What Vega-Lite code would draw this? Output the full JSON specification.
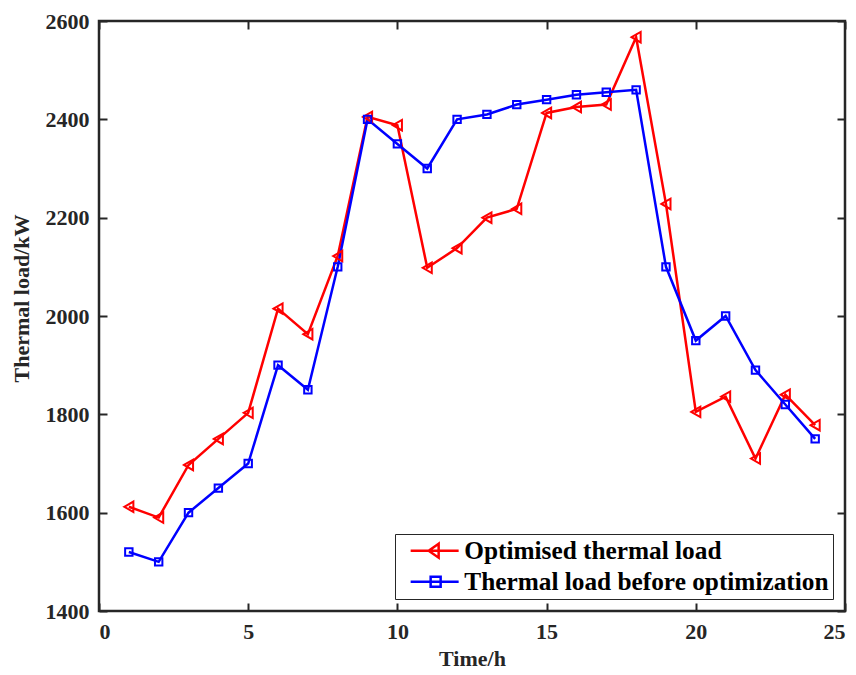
{
  "$schema": "https://vega.github.io/schema/vega-lite/v6.json",
  "width": 746,
  "height": 590,
  "autosize": {"type": "none"},
  "padding": {"left": 99, "top": 21, "right": 11, "bottom": 64},
  "background": "white",
  "config": {
    "view": {"stroke": "#262626", "strokeWidth": 2.5},
    "font": "Liberation Serif",
    "axis": {
      "domain": false,
      "grid": false,
      "tickSize": -8,
      "tickWidth": 2,
      "tickColor": "#262626",
      "labelFont": "Liberation Serif",
      "labelFontWeight": "bold",
      "labelFontSize": 22,
      "labelColor": "#262626",
      "titleFont": "Liberation Serif",
      "titleFontWeight": "bold",
      "titleFontSize": 22,
      "titleColor": "#262626"
    }
  },
  "data": {
    "values": [
      {"t": 1, "series": "Optimised thermal load", "load": 1612},
      {"t": 2, "series": "Optimised thermal load", "load": 1590},
      {"t": 3, "series": "Optimised thermal load", "load": 1697},
      {"t": 4, "series": "Optimised thermal load", "load": 1750},
      {"t": 5, "series": "Optimised thermal load", "load": 1803},
      {"t": 6, "series": "Optimised thermal load", "load": 2015},
      {"t": 7, "series": "Optimised thermal load", "load": 1963},
      {"t": 8, "series": "Optimised thermal load", "load": 2122},
      {"t": 9, "series": "Optimised thermal load", "load": 2405},
      {"t": 10, "series": "Optimised thermal load", "load": 2388},
      {"t": 11, "series": "Optimised thermal load", "load": 2098},
      {"t": 12, "series": "Optimised thermal load", "load": 2138},
      {"t": 13, "series": "Optimised thermal load", "load": 2200},
      {"t": 14, "series": "Optimised thermal load", "load": 2218},
      {"t": 15, "series": "Optimised thermal load", "load": 2413},
      {"t": 16, "series": "Optimised thermal load", "load": 2425},
      {"t": 17, "series": "Optimised thermal load", "load": 2430},
      {"t": 18, "series": "Optimised thermal load", "load": 2567},
      {"t": 19, "series": "Optimised thermal load", "load": 2228},
      {"t": 20, "series": "Optimised thermal load", "load": 1805},
      {"t": 21, "series": "Optimised thermal load", "load": 1836},
      {"t": 22, "series": "Optimised thermal load", "load": 1710},
      {"t": 23, "series": "Optimised thermal load", "load": 1840},
      {"t": 24, "series": "Optimised thermal load", "load": 1778},
      {"t": 1, "series": "Thermal load before optimization", "load": 1520},
      {"t": 2, "series": "Thermal load before optimization", "load": 1500},
      {"t": 3, "series": "Thermal load before optimization", "load": 1600},
      {"t": 4, "series": "Thermal load before optimization", "load": 1650},
      {"t": 5, "series": "Thermal load before optimization", "load": 1700},
      {"t": 6, "series": "Thermal load before optimization", "load": 1900},
      {"t": 7, "series": "Thermal load before optimization", "load": 1850},
      {"t": 8, "series": "Thermal load before optimization", "load": 2100},
      {"t": 9, "series": "Thermal load before optimization", "load": 2400},
      {"t": 10, "series": "Thermal load before optimization", "load": 2350},
      {"t": 11, "series": "Thermal load before optimization", "load": 2300},
      {"t": 12, "series": "Thermal load before optimization", "load": 2400},
      {"t": 13, "series": "Thermal load before optimization", "load": 2410},
      {"t": 14, "series": "Thermal load before optimization", "load": 2430},
      {"t": 15, "series": "Thermal load before optimization", "load": 2440},
      {"t": 16, "series": "Thermal load before optimization", "load": 2450},
      {"t": 17, "series": "Thermal load before optimization", "load": 2455},
      {"t": 18, "series": "Thermal load before optimization", "load": 2460},
      {"t": 19, "series": "Thermal load before optimization", "load": 2100},
      {"t": 20, "series": "Thermal load before optimization", "load": 1950},
      {"t": 21, "series": "Thermal load before optimization", "load": 2000},
      {"t": 22, "series": "Thermal load before optimization", "load": 1890},
      {"t": 23, "series": "Thermal load before optimization", "load": 1820},
      {"t": 24, "series": "Thermal load before optimization", "load": 1750}
    ]
  },
  "layer": [
    {
      "mark": {"type": "line", "strokeWidth": 2.5},
      "encoding": {
        "x": {"field": "t", "type": "quantitative", "scale": {"domain": [0, 25], "nice": false},
              "axis": {"orient": "bottom", "values": [0, 5, 10, 15, 20, 25], "title": "Time/h", "labelPadding": 18, "titlePadding": 6}},
        "y": {"field": "load", "type": "quantitative", "scale": {"domain": [1400, 2600], "nice": false, "zero": false},
              "axis": {"orient": "left", "values": [1400, 1600, 1800, 2000, 2200, 2400, 2600], "format": "d", "title": "Thermal load/kW", "labelPadding": 18, "titlePadding": 12, "titleY": 277}},
        "color": {"field": "series", "type": "nominal",
                  "scale": {"domain": ["Optimised thermal load", "Thermal load before optimization"], "range": ["#FF0000", "#0000FF"]},
                  "legend": {
                    "title": null, "orient": "bottom-right", "offset": 12,
                    "labelFont": "Liberation Serif", "labelFontWeight": "bold", "labelFontSize": 25.3, "labelColor": "black", "labelLimit": 0,
                    "labelOffset": 40, "padding": 4, "rowPadding": 5, "symbolSize": 100, "symbolStrokeWidth": 2.5,
                    "strokeColor": "#262626", "fillColor": "white", "cornerRadius": 0,
                    "encode": {"symbols": {"update": {
                      "shape": {"signal": "datum.value === 'Optimised thermal load' ? 'M-0.2,0H9.4M5.4,-1.4L3.4,0L5.4,1.4Z' : 'M-0.2,0H9.4M3.8,-1H5.8V1H3.8Z'"},
                      "size": {"value": 100},
                      "strokeWidth": {"value": 2.5},
                      "fill": {"value": "transparent"}
                    }}}
                  }}
      }
    },
    {
      "mark": {"type": "point", "filled": false, "strokeWidth": 2, "opacity": 1},
      "encoding": {
        "x": {"field": "t", "type": "quantitative", "axis": null},
        "y": {"field": "load", "type": "quantitative", "axis": null},
        "color": {"field": "series", "type": "nominal", "legend": null},
        "shape": {"field": "series", "type": "nominal",
                  "scale": {"domain": ["Optimised thermal load", "Thermal load before optimization"], "range": ["triangle-left", "square"]},
                  "legend": null},
        "size": {"field": "series", "type": "nominal",
                 "scale": {"domain": ["Optimised thermal load", "Thermal load before optimization"], "range": [110, 55]},
                 "legend": null}
      }
    },
    {
      "mark": {"type": "point", "opacity": 0},
      "encoding": {
        "x": {"field": "t", "type": "quantitative",
              "axis": {"orient": "top", "values": [0, 5, 10, 15, 20, 25], "labels": false, "title": null}},
        "y": {"field": "load", "type": "quantitative",
              "axis": {"orient": "right", "values": [1400, 1600, 1800, 2000, 2200, 2400, 2600], "labels": false, "title": null}}
      }
    }
  ],
  "resolve": {"axis": {"x": "independent", "y": "independent"}, "legend": {"color": "independent", "shape": "independent", "size": "independent"}}
}
